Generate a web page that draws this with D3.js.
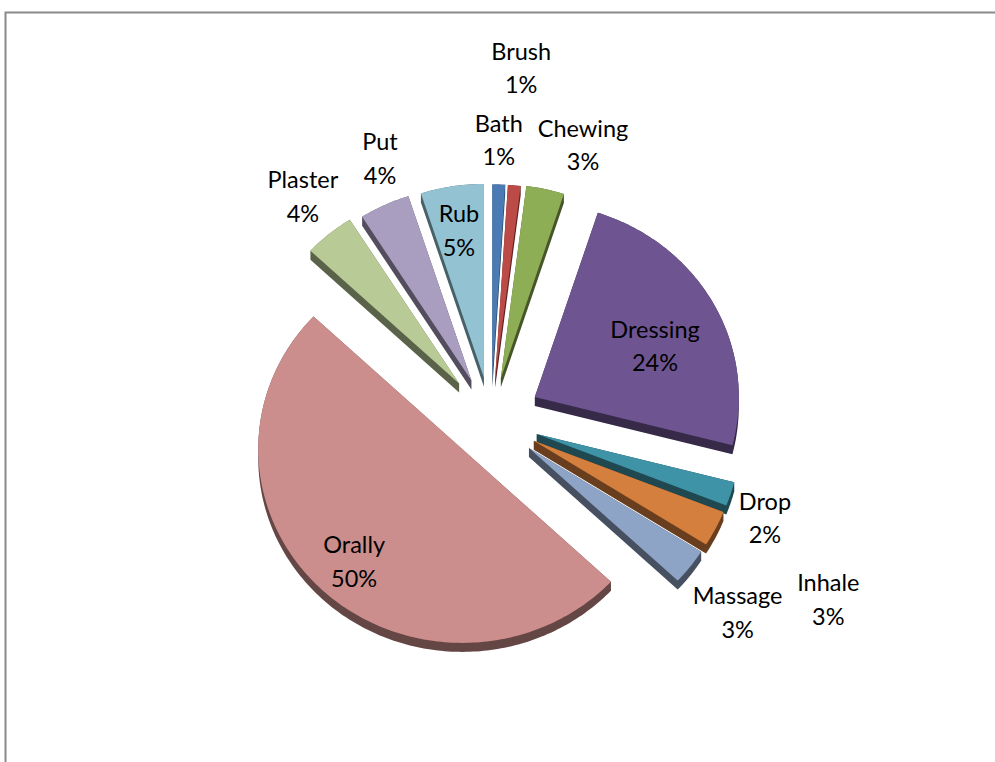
<!DOCTYPE html>
<html>
<head>
<meta charset="utf-8">
<script src="https://cdn.jsdelivr.net/npm/d3@7"></script>
<style>
  html, body { margin: 0; padding: 0; background: #ffffff; }
  svg { display: block; }
  text { font-family: Lato, "Open Sans", sans-serif; fill: #000; }
</style>
</head>
<body>
<svg id="chart" width="995" height="762"></svg>
<script>
// Routes of administration, share of reports (%)
const categories = ["Bath", "Brush", "Chewing", "Dressing", "Drop", "Inhale",
                    "Massage", "Orally", "Plaster", "Put", "Rub"];
const shares = [1, 1, 3, 24, 2, 3, 3, 50, 4, 4, 5];

// Slice fill colours
const colors = ["#4a7bb5", "#bc4a47", "#8eae55", "#6e5592", "#3f93a6", "#d47f3d",
                "#8ea4c6", "#cc8e8c", "#b8cb96", "#a99ebf", "#93c3d3"];

// How far each slice is pulled out from the centre (px)
const explode = [44, 44, 45, 50, 48, 48, 48, 42, 50, 46, 45];

// Label placement: [angle in degrees clockwise from 12 o'clock, distance from centre in px]
const labelPolar = [[1.6, 280], [4.9, 353], [18.5, 290], [65.7, 180], [109.7, 291],
                    [118, 382], [128, 313], [224, 197], [319.9, 292], [337, 284], [350.4, 192]];

const W = 995, H = 762;
const cx = 491, cy = 420;      // pie centre
const R = 204;                 // pie radius
const tilt = 0.95;             // vertical squash of the tilted disc
const depth = 9;               // thickness of the 3-D disc
const fontSize = 23.5, lineStep = 33.5;

const svg = d3.select("#chart");

// chart-area frame
svg.append("rect")
  .attr("x", 5.5).attr("y", 12.5)
  .attr("width", W + 20).attr("height", H + 20)
  .attr("fill", "none").attr("stroke", "#8a8a8a").attr("stroke-width", 2);

const arcs = d3.pie().sort(null).value(d => d)(shares);

const slices = arcs.map((a, i) => {
  const m = (a.startAngle + a.endAngle) / 2;
  const tip = [cx + explode[i] * Math.sin(m), cy - explode[i] * Math.cos(m) * tilt];
  const steps = Math.max(4, Math.ceil((a.endAngle - a.startAngle) / (Math.PI / 180)));
  const pts = [tip];
  for (let s = 0; s <= steps; s++) {
    const t = a.startAngle + (a.endAngle - a.startAngle) * s / steps;
    pts.push([tip[0] + R * Math.sin(t), tip[1] - R * Math.cos(t) * tilt]);
  }
  const lower = pts.map(p => [p[0], p[1] + depth]);
  const hull = d3.polygonHull(pts.concat(lower));
  return { i, tip, pts, hull };
});

const line = d3.line().curve(d3.curveLinearClosed);
const g = svg.append("g");

// paint back-to-front so nearer slices overlap the sides of farther ones
slices.slice().sort((a, b) => a.tip[1] - b.tip[1]).forEach(s => {
  const base = d3.color(colors[s.i]);
  g.append("path")
    .attr("d", line(s.hull))
    .attr("fill", base.darker(2).formatHex());
  g.append("path")
    .attr("d", line(s.pts))
    .attr("fill", colors[s.i]);
});

// data labels: name on the first line, percentage on the second
const labels = svg.append("g").attr("font-size", fontSize).attr("text-anchor", "middle");
categories.forEach((name, i) => {
  const ang = labelPolar[i][0] * Math.PI / 180, r = labelPolar[i][1];
  const x = cx + r * Math.sin(ang);
  const y = cy - r * Math.cos(ang);
  const t = labels.append("text").attr("x", x).attr("y", y - 8.3);
  t.append("tspan").attr("x", x).text(name);
  t.append("tspan").attr("x", x).attr("dy", lineStep).text(shares[i] + "%");
});
</script>
</body>
</html>
